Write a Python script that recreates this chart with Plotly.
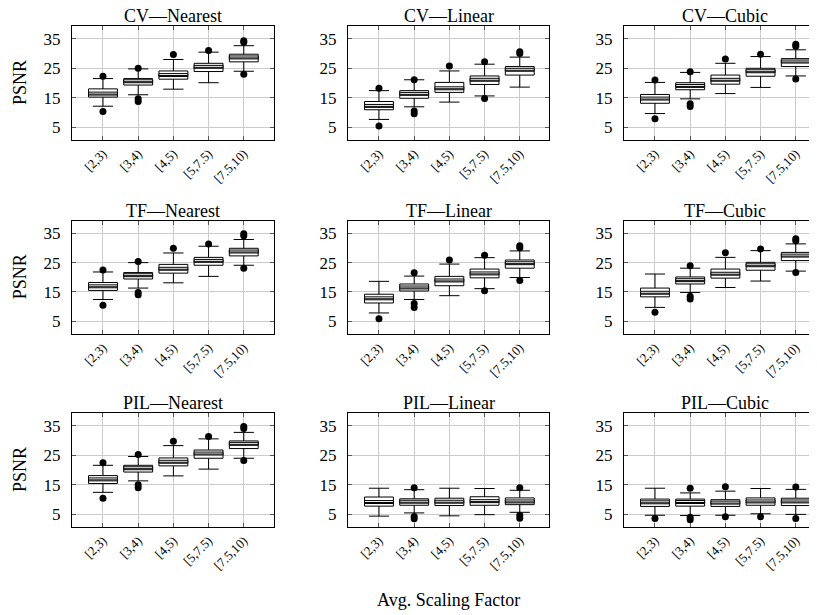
import plotly.graph_objects as go

categories = ["[2,3)", "[3,4)", "[4,5)", "[5,7.5)", "[7.5,10)"]

# ---- CV ----
cv_nearest_low = [12.1, 16.0, 17.9, 20.1, 24.0]
cv_nearest_q1 = [15.2, 19.3, 21.3, 23.9, 27.2]
cv_nearest_med = [16.4, 20.6, 22.7, 25.5, 28.7]
cv_nearest_q3 = [18.0, 21.5, 24.1, 26.7, 29.8]
cv_nearest_high = [21.5, 24.8, 28.0, 30.5, 32.7]
cv_nearest_out_x = [0, 0, 1, 1, 1, 2, 3, 4, 4, 4]
cv_nearest_out_y = [22.3, 10.3, 25.0, 14.6, 13.7, 29.7, 31.1, 34.4, 33.9, 23.0]

cv_linear_low = [7.6, 11.9, 13.5, 15.6, 18.6]
cv_linear_q1 = [10.9, 14.8, 16.8, 19.5, 22.7]
cv_linear_med = [12.2, 16.3, 18.2, 21.1, 24.5]
cv_linear_q3 = [13.7, 17.4, 20.2, 22.4, 25.6]
cv_linear_high = [17.4, 21.1, 24.1, 26.4, 28.8]
cv_linear_out_x = [0, 0, 1, 1, 1, 2, 3, 3, 4, 4]
cv_linear_out_y = [18.2, 5.4, 21.1, 10.5, 9.5, 25.8, 27.2, 14.7, 30.6, 30.0]

cv_cubic_low = [9.6, 14.6, 16.4, 18.5, 22.4]
cv_cubic_q1 = [13.1, 17.7, 19.6, 22.3, 25.6]
cv_cubic_med = [14.7, 19.0, 21.1, 24.0, 27.3]
cv_cubic_q3 = [16.1, 20.1, 22.7, 25.0, 28.3]
cv_cubic_high = [20.2, 23.6, 26.7, 29.0, 31.3]
cv_cubic_out_x = [0, 0, 1, 1, 1, 2, 3, 4, 4, 4]
cv_cubic_out_y = [21.0, 7.8, 23.8, 12.9, 12.0, 28.2, 29.8, 33.2, 32.5, 21.4]

# ---- TF ----
tf_nearest_low = [12.4, 16.3, 18.1, 20.3, 24.1]
tf_nearest_q1 = [15.5, 19.4, 21.4, 24.1, 27.3]
tf_nearest_med = [16.9, 20.7, 22.9, 25.6, 28.8]
tf_nearest_q3 = [18.2, 21.6, 24.4, 26.8, 29.9]
tf_nearest_high = [21.8, 25.0, 28.3, 30.6, 32.9]
tf_nearest_out_x = [0, 0, 1, 1, 1, 2, 3, 4, 4, 4]
tf_nearest_out_y = [22.5, 10.4, 25.4, 14.8, 14.0, 29.9, 31.4, 34.9, 34.2, 23.1]

tf_linear_low = [7.8, 12.4, 13.7, 16.1, 19.9]
tf_linear_q1 = [11.2, 15.3, 17.1, 19.8, 23.1]
tf_linear_med = [12.8, 16.5, 18.9, 21.3, 24.8]
tf_linear_q3 = [14.2, 17.7, 20.3, 22.8, 25.9]
tf_linear_high = [18.6, 20.4, 24.5, 26.7, 29.0]
tf_linear_out_x = [0, 1, 1, 1, 2, 3, 3, 4, 4, 4]
tf_linear_out_y = [5.8, 21.5, 11.0, 9.7, 25.9, 27.5, 15.4, 30.8, 30.1, 18.9]

tf_cubic_low = [9.7, 14.8, 16.5, 18.7, 22.1]
tf_cubic_q1 = [13.3, 17.7, 19.7, 22.4, 25.7]
tf_cubic_med = [14.7, 19.0, 21.2, 24.1, 27.4]
tf_cubic_q3 = [16.3, 20.1, 22.8, 25.1, 28.5]
tf_cubic_high = [21.1, 23.1, 26.8, 29.1, 31.4]
tf_cubic_out_x = [0, 1, 1, 1, 2, 3, 4, 4, 4]
tf_cubic_out_y = [8.0, 23.9, 13.5, 12.6, 28.4, 29.7, 33.2, 32.5, 21.6]

# ---- PIL ----
pil_nearest_low = [12.4, 16.3, 18.0, 20.3, 24.0]
pil_nearest_q1 = [15.4, 19.3, 21.4, 24.0, 27.3]
pil_nearest_med = [16.8, 20.6, 22.8, 25.6, 28.9]
pil_nearest_q3 = [18.1, 21.6, 24.1, 26.8, 29.9]
pil_nearest_high = [21.6, 24.6, 28.3, 30.6, 32.8]
pil_nearest_out_x = [0, 0, 1, 1, 1, 2, 3, 4, 4, 4]
pil_nearest_out_y = [22.5, 10.4, 25.3, 15.0, 14.0, 29.8, 31.4, 34.8, 34.1, 23.2]

pil_linear_low = [4.3, 5.4, 4.4, 4.8, 5.6]
pil_linear_q1 = [7.7, 8.0, 7.9, 8.0, 8.2]
pil_linear_med = [9.1, 9.2, 9.2, 9.4, 9.3]
pil_linear_q3 = [10.8, 10.2, 10.4, 10.9, 10.5]
pil_linear_high = [13.8, 13.3, 13.8, 13.7, 13.1]
pil_linear_out_x = [1, 1, 1, 4, 4, 4]
pil_linear_out_y = [14.0, 4.2, 3.4, 14.0, 4.6, 3.6]

pil_cubic_low = [4.6, 4.5, 4.6, 5.1, 4.9]
pil_cubic_q1 = [7.6, 7.7, 7.6, 8.0, 7.9]
pil_cubic_med = [9.0, 9.1, 8.9, 9.3, 9.3]
pil_cubic_q3 = [10.1, 10.1, 9.9, 10.5, 10.4]
pil_cubic_high = [13.8, 12.2, 12.8, 13.7, 13.4]
pil_cubic_out_x = [0, 1, 1, 1, 2, 2, 3, 4, 4]
pil_cubic_out_y = [3.5, 13.8, 3.9, 3.1, 14.3, 4.1, 4.1, 14.2, 3.5]

panel_titles = ["CV—Nearest", "CV—Linear", "CV—Cubic",
                "TF—Nearest", "TF—Linear", "TF—Cubic",
                "PIL—Nearest", "PIL—Linear", "PIL—Cubic"]

panels = [
    (cv_nearest_low, cv_nearest_q1, cv_nearest_med, cv_nearest_q3, cv_nearest_high, cv_nearest_out_x, cv_nearest_out_y),
    (cv_linear_low, cv_linear_q1, cv_linear_med, cv_linear_q3, cv_linear_high, cv_linear_out_x, cv_linear_out_y),
    (cv_cubic_low, cv_cubic_q1, cv_cubic_med, cv_cubic_q3, cv_cubic_high, cv_cubic_out_x, cv_cubic_out_y),
    (tf_nearest_low, tf_nearest_q1, tf_nearest_med, tf_nearest_q3, tf_nearest_high, tf_nearest_out_x, tf_nearest_out_y),
    (tf_linear_low, tf_linear_q1, tf_linear_med, tf_linear_q3, tf_linear_high, tf_linear_out_x, tf_linear_out_y),
    (tf_cubic_low, tf_cubic_q1, tf_cubic_med, tf_cubic_q3, tf_cubic_high, tf_cubic_out_x, tf_cubic_out_y),
    (pil_nearest_low, pil_nearest_q1, pil_nearest_med, pil_nearest_q3, pil_nearest_high, pil_nearest_out_x, pil_nearest_out_y),
    (pil_linear_low, pil_linear_q1, pil_linear_med, pil_linear_q3, pil_linear_high, pil_linear_out_x, pil_linear_out_y),
    (pil_cubic_low, pil_cubic_q1, pil_cubic_med, pil_cubic_q3, pil_cubic_high, pil_cubic_out_x, pil_cubic_out_y),
]

W, H = 817, 615
OFF = 8  # page body margin: figure origin sits at (8, 8) on screen
FONT = "Liberation Serif, Times New Roman, Times, serif"
col_px = [(72, 274), (348, 549), (624, 825)]
row_px = [(26, 140), (220.5, 334), (413, 527)]
px_per_cat = 35.2
x_left = -0.88
DELTA = 0.5  # half-gap of the doubled median line


def fx(p):
    return (p - OFF) / W


def fy(p):
    return 1 - (p - OFF) / H


fig = go.Figure()
annotations = []

for i, (low, q1, med, q3, high, ox, oy) in enumerate(panels):
    r, c = divmod(i, 3)
    n = i + 1
    xa = "x" if n == 1 else f"x{n}"
    ya = "y" if n == 1 else f"y{n}"
    fig.add_trace(go.Box(
        x=categories, q1=q1, median=med, q3=q3, lowerfence=low, upperfence=high,
        xaxis=xa, yaxis=ya, width=0.82, whiskerwidth=0.7,
        line=dict(color="black", width=1), fillcolor="white",
        boxpoints=False, showlegend=False, hoverinfo="skip",
    ))
    m_lo = [max(a, m - DELTA) for a, m in zip(q1, med)]
    m_hi = [min(b, m + DELTA) for b, m in zip(q3, med)]
    fig.add_trace(go.Box(
        x=categories, q1=m_lo, median=m_lo, q3=m_hi, lowerfence=m_lo, upperfence=m_hi,
        xaxis=xa, yaxis=ya, width=0.82, whiskerwidth=0,
        line=dict(color="black", width=1), fillcolor="white",
        boxpoints=False, showlegend=False, hoverinfo="skip",
    ))
    fig.add_trace(go.Scatter(
        x=[categories[k] for k in ox], y=oy, mode="markers",
        marker=dict(color="black", size=7), xaxis=xa, yaxis=ya,
        showlegend=False, hoverinfo="skip",
    ))

    x0, x1 = col_px[c]
    y0, y1 = row_px[r]
    x1c = min(x1, W + OFF)
    x_right = x_left + (x1c - x0) / px_per_cat
    xkey = "xaxis" if n == 1 else f"xaxis{n}"
    ykey = "yaxis" if n == 1 else f"yaxis{n}"
    fig.layout[xkey] = dict(
        domain=[fx(x0), min(1.0, fx(x1c))], anchor=ya, type="category",
        categoryorder="array", categoryarray=categories,
        range=[x_left, x_right], tickangle=-45,
        tickfont=dict(family=FONT, size=13, color="black"),
        showgrid=True, gridcolor="#cccccc", gridwidth=1,
        ticks="inside", ticklen=4, tickcolor="#555555", mirror="allticks",
        showline=True, linecolor="black", linewidth=1, zeroline=False,
    )
    fig.layout[ykey] = dict(
        domain=[fy(y1), fy(y0)], anchor=xa, range=[0.6, 39.4],
        tickvals=[5, 15, 25, 35],
        tickfont=dict(family=FONT, size=17, color="black"),
        showgrid=True, gridcolor="#cccccc", gridwidth=1,
        ticks="inside", ticklen=4, tickcolor="#555555", mirror="allticks",
        showline=True, linecolor="black", linewidth=1, zeroline=False,
        ticklabelstandoff=7,
    )
    annotations.append(dict(
        text=panel_titles[i], x=fx(x0 + 101), y=fy(y0 - 18), xref="paper", yref="paper",
        xanchor="center", yanchor="top", yshift=3, borderpad=0, showarrow=False,
        font=dict(family=FONT, size=18, color="black"),
    ))
    if c == 0:
        annotations.append(dict(
            text="PSNR", x=fx(20), y=fy((y0 + y1) / 2), xref="paper", yref="paper",
            xanchor="center", yanchor="middle", textangle=-90, showarrow=False,
            font=dict(family=FONT, size=18, color="black"),
        ))

annotations.append(dict(
    text="Avg. Scaling Factor", x=fx(448), y=fy(600), xref="paper", yref="paper",
    xanchor="center", yanchor="middle", showarrow=False,
    font=dict(family=FONT, size=18, color="black"),
))

fig.update_layout(
    width=W, height=H, margin=dict(l=0, r=0, t=0, b=0),
    paper_bgcolor="white", plot_bgcolor="white", boxmode="overlay",
    annotations=annotations, font=dict(family=FONT, color="black"),
)

fig.write_html("out.html")
